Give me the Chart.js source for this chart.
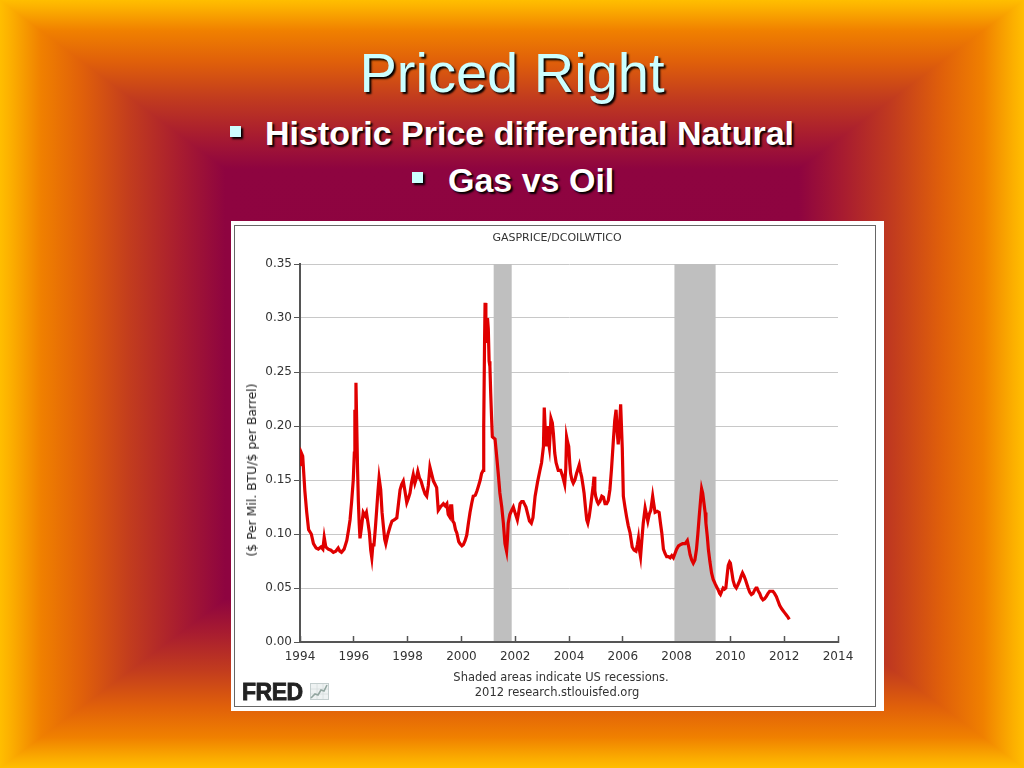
<!DOCTYPE html>
<html>
<head>
<meta charset="utf-8">
<script src="https://cdn.jsdelivr.net/npm/chart.js@4/dist/chart.umd.min.js"></script>
<style>
  html, body { margin: 0; padding: 0; }
  body { width: 1024px; height: 768px; overflow: hidden; position: relative; background: #8a0040; font-family: 'Liberation Sans', Arial, sans-serif; }
  :root { --stops: #ffbe00 0%, #fcb000 1%, #f08000 4%, #e0600a 8%, #c23c1e 12.7%, #a81c30 17.6%, #8e0440 22%, #8a0040 100%; }
  .bg { position: absolute; left: 0; top: 0; width: 1024px; height: 768px; }
  /* left/right pieces reach a little past the diagonals so no seam shows */
  .bg.left   { clip-path: polygon(0 0, 8px 0, calc(50% + 8px) 50%, 8px 100%, 0 100%); background: linear-gradient(to right, var(--stops)); }
  .bg.right  { clip-path: polygon(100% 0, calc(100% - 8px) 0, calc(50% - 8px) 50%, calc(100% - 8px) 100%, 100% 100%); background: linear-gradient(to left, var(--stops)); }
  .bg.top    { clip-path: polygon(0 0, 100% 0, 50% 50%); background: linear-gradient(to bottom, var(--stops)); }
  .bg.bottom { clip-path: polygon(0 100%, 100% 100%, 50% 50%); background: linear-gradient(to top, var(--stops)); }
  .title { position: absolute; left: 0; width: 1024px; top: 45px; text-align: center; font-size: 56px; line-height: 56px; color: #ccffff; text-shadow: 2px 2px 2px #000; }
  .bullet { position: absolute; font-size: 34px; line-height: 34px; font-weight: bold; color: #fff; text-shadow: 2px 2px 2px #000; white-space: nowrap; }
  .sq { position: absolute; width: 11px; height: 11px; background: #ccffff; box-shadow: 2px 2px 2px #000; }
  .box { position: absolute; left: 231px; top: 221px; width: 653px; height: 490px; background: #fff; }
  .frame { position: absolute; left: 234px; top: 225px; width: 640px; height: 480px; border: 1px solid #666; }
  .wrap { position: absolute; left: 231px; top: 221px; width: 653px; height: 490px; }
  .fred { position: absolute; font-family: 'DejaVu Sans', Verdana, sans-serif; color: #333; font-size: 11.5px; white-space: nowrap; transform: translate(-50%, -50%); }
  .ytitle { position: absolute; left: 252px; top: 470px; font-family: 'DejaVu Sans', Verdana, sans-serif; font-weight: normal; color: #222; font-size: 12.4px; line-height: 14px; white-space: nowrap; transform: translate(-50%, -50%) rotate(-90deg); }
  .logo { position: absolute; left: 242px; top: 681px; font-size: 23px; line-height: 23px; font-weight: bold; color: #222; letter-spacing: -0.5px; -webkit-text-stroke: 0.8px #222; }
</style>
</head>
<body>
<div class="bg left"></div>
<div class="bg right"></div>
<div class="bg top"></div>
<div class="bg bottom"></div>

<div class="title">Priced Right</div>
<div class="sq" style="left:230px; top:126px;"></div>
<div class="bullet" style="left:265px; top:116px;">Historic Price differential Natural</div>
<div class="sq" style="left:412px; top:172px;"></div>
<div class="bullet" style="left:448px; top:163px;">Gas vs Oil</div>

<div class="box"></div>
<div class="frame"></div>
<div class="wrap"><canvas id="ratioChart"></canvas></div>

<div class="fred" style="left:557px; top:237px; font-size:11px;">GASPRICE/DCOILWTICO</div>
<div class="ytitle">($ Per Mil. BTU/$ per Barrel)</div>
<div class="fred" style="left:561px; top:677px;">Shaded areas indicate US recessions.</div>
<div class="fred" style="left:557px; top:692px;">2012 research.stlouisfed.org</div>
<div class="logo">FRED</div>
<svg style="position:absolute; left:310px; top:683px;" width="19" height="17" viewBox="0 0 19 17">
  <rect x="0.5" y="0.5" width="18" height="16" fill="#eef2f2" stroke="#c4cece"/>
  <path d="M1 6H18M1 11H18M7 1V16M13 1V16" stroke="#d6dddd" stroke-width="0.8"/>
  <polyline points="1,15 5,11 8,12 11,7 14,8 17,2" fill="none" stroke="#93a6a0" stroke-width="1.6"/>
</svg>

<script>
// ratio of natural gas price to WTI crude
let years = [
  1994.00, 1994.05, 1994.10, 1994.18, 1994.25, 1994.32, 1994.42, 1994.50, 1994.60, 1994.68,
  1994.78, 1994.85, 1994.90, 1994.96, 1995.05, 1995.15, 1995.24, 1995.33, 1995.42, 1995.48,
  1995.54, 1995.64, 1995.74, 1995.80, 1995.86, 1995.92, 1995.98, 1996.02, 1996.04, 1996.06,
  1996.08, 1996.11, 1996.14, 1996.17, 1996.20, 1996.23, 1996.28, 1996.35, 1996.42, 1996.47,
  1996.53, 1996.58, 1996.63, 1996.67, 1996.71, 1996.75, 1996.80, 1996.85, 1996.90, 1996.94,
  1997.00, 1997.05, 1997.10, 1997.15, 1997.19, 1997.27, 1997.35, 1997.42, 1997.50, 1997.60,
  1997.66, 1997.72, 1997.78, 1997.84, 1997.90, 1997.97, 1998.03, 1998.09, 1998.15, 1998.21,
  1998.27, 1998.33, 1998.38, 1998.44, 1998.50, 1998.58, 1998.65, 1998.71, 1998.77, 1998.83,
  1998.90, 1998.96, 1999.02, 1999.08, 1999.14, 1999.22, 1999.33, 1999.40, 1999.46, 1999.51,
  1999.56, 1999.60, 1999.64, 1999.68, 1999.73, 1999.78, 1999.83, 1999.90, 1999.95, 2000.02,
  2000.07, 2000.14, 2000.20, 2000.26, 2000.32, 2000.38, 2000.44, 2000.52, 2000.58, 2000.63,
  2000.70, 2000.75, 2000.81, 2000.83, 2000.86, 2000.88, 2000.91, 2000.94, 2000.97, 2001.00,
  2001.03, 2001.06, 2001.09, 2001.12, 2001.15, 2001.20, 2001.25, 2001.30, 2001.37, 2001.43,
  2001.50, 2001.56, 2001.62, 2001.68, 2001.71, 2001.74, 2001.80, 2001.87, 2001.93, 2001.99,
  2002.08, 2002.13, 2002.18, 2002.24, 2002.30, 2002.36, 2002.40, 2002.47, 2002.53, 2002.60,
  2002.66, 2002.74, 2002.83, 2002.92, 2002.98, 2003.05, 2003.08, 2003.12, 2003.15, 2003.20,
  2003.24, 2003.27, 2003.33, 2003.38, 2003.42, 2003.47, 2003.52, 2003.60, 2003.69, 2003.77,
  2003.84, 2003.88, 2003.91, 2003.95, 2003.99, 2004.03, 2004.06, 2004.11, 2004.16, 2004.22,
  2004.28, 2004.33, 2004.38, 2004.42, 2004.47, 2004.52, 2004.56, 2004.61, 2004.66, 2004.70,
  2004.75, 2004.80, 2004.85, 2004.90, 2004.93, 2004.96, 2004.99, 2005.05, 2005.09, 2005.15,
  2005.22, 2005.28, 2005.34, 2005.40, 2005.46, 2005.52, 2005.58, 2005.65, 2005.70, 2005.75,
  2005.79, 2005.83, 2005.88, 2005.92, 2005.95, 2005.98, 2006.02, 2006.08, 2006.14, 2006.20,
  2006.27, 2006.35, 2006.42, 2006.49, 2006.54, 2006.58, 2006.62, 2006.66, 2006.71, 2006.76,
  2006.83, 2006.88, 2006.93, 2006.98, 2007.04, 2007.11, 2007.15, 2007.20, 2007.28, 2007.35,
  2007.40, 2007.45, 2007.51, 2007.57, 2007.63, 2007.70, 2007.76, 2007.82, 2007.88, 2007.94,
  2008.00, 2008.07, 2008.13, 2008.22, 2008.32, 2008.40, 2008.45, 2008.50, 2008.56, 2008.62,
  2008.68, 2008.74, 2008.79, 2008.84, 2008.90, 2008.93, 2008.97, 2009.02, 2009.06, 2009.09,
  2009.14, 2009.18, 2009.24, 2009.30, 2009.36, 2009.43, 2009.49, 2009.55, 2009.60, 2009.63,
  2009.68, 2009.73, 2009.78, 2009.83, 2009.88, 2009.92, 2009.97, 2010.00, 2010.05, 2010.10,
  2010.16, 2010.22, 2010.28, 2010.35, 2010.40, 2010.45, 2010.51, 2010.57, 2010.62, 2010.66,
  2010.72, 2010.78, 2010.84, 2010.90, 2010.95, 2010.99, 2011.04, 2011.09, 2011.15, 2011.21,
  2011.27, 2011.33, 2011.40, 2011.46, 2011.52, 2011.58, 2011.64, 2011.71, 2011.77, 2011.83,
  2011.90, 2011.96, 2012.02, 2012.08, 2012.14, 2012.19
]
let ratio = [
  0.163, 0.175, 0.172, 0.140, 0.120, 0.104, 0.100, 0.091, 0.087, 0.086,
  0.088, 0.086, 0.097, 0.088, 0.086, 0.085, 0.083, 0.084, 0.087, 0.084,
  0.083, 0.086, 0.094, 0.103, 0.113, 0.130, 0.150, 0.175, 0.215, 0.205,
  0.240, 0.200, 0.160, 0.130, 0.110, 0.096, 0.105, 0.120, 0.117, 0.120,
  0.110, 0.101, 0.085, 0.078, 0.090, 0.090, 0.105, 0.122, 0.140, 0.152,
  0.141, 0.120, 0.107, 0.095, 0.091, 0.100, 0.107, 0.112, 0.113, 0.115,
  0.128, 0.141, 0.146, 0.149, 0.140, 0.129, 0.133, 0.138, 0.148, 0.155,
  0.147, 0.152, 0.158, 0.152, 0.149, 0.142, 0.137, 0.135, 0.145, 0.162,
  0.155, 0.149, 0.146, 0.143, 0.122, 0.125, 0.128, 0.126, 0.128, 0.118,
  0.116, 0.126, 0.126, 0.112, 0.110, 0.104, 0.101, 0.093, 0.091, 0.089,
  0.090, 0.094, 0.099, 0.110, 0.120, 0.128, 0.135, 0.136, 0.140, 0.144,
  0.150, 0.156, 0.159, 0.200, 0.275, 0.314, 0.295, 0.277, 0.300, 0.290,
  0.260, 0.255, 0.230, 0.209, 0.190, 0.189, 0.188, 0.175, 0.156, 0.138,
  0.125, 0.110, 0.091, 0.084, 0.095, 0.110, 0.118, 0.122, 0.125, 0.120,
  0.113, 0.120, 0.128, 0.130, 0.130, 0.127, 0.125, 0.118, 0.112, 0.110,
  0.115, 0.135, 0.148, 0.159, 0.166, 0.181, 0.217, 0.195, 0.181, 0.200,
  0.185, 0.180, 0.207, 0.203, 0.193, 0.175, 0.166, 0.159, 0.159, 0.153,
  0.146, 0.160, 0.190, 0.185, 0.181, 0.165, 0.156, 0.150, 0.147, 0.150,
  0.156, 0.160, 0.164, 0.158, 0.153, 0.145, 0.138, 0.125, 0.113, 0.110,
  0.116, 0.125, 0.135, 0.145, 0.153, 0.140, 0.135, 0.130, 0.128, 0.130,
  0.135, 0.134, 0.128, 0.128, 0.131, 0.141, 0.160, 0.187, 0.205, 0.215,
  0.195, 0.183, 0.200, 0.220, 0.200, 0.180, 0.135, 0.125, 0.116, 0.108,
  0.101, 0.088, 0.085, 0.084, 0.090, 0.096, 0.085, 0.079, 0.095, 0.110,
  0.124, 0.118, 0.112, 0.118, 0.122, 0.135, 0.128, 0.120, 0.121, 0.120,
  0.110, 0.101, 0.086, 0.082, 0.079, 0.079, 0.078, 0.080, 0.078, 0.082,
  0.086, 0.089, 0.090, 0.091, 0.091, 0.094, 0.088, 0.081, 0.076, 0.073,
  0.076, 0.086, 0.100, 0.116, 0.134, 0.142, 0.138, 0.128, 0.120, 0.110,
  0.098, 0.086, 0.074, 0.064, 0.058, 0.054, 0.051, 0.048, 0.045, 0.044,
  0.047, 0.050, 0.049, 0.050, 0.062, 0.071, 0.074, 0.073, 0.065, 0.057,
  0.052, 0.050, 0.053, 0.057, 0.061, 0.064, 0.061, 0.057, 0.053, 0.050,
  0.046, 0.044, 0.045, 0.048, 0.050, 0.050, 0.047, 0.045, 0.041, 0.039,
  0.040, 0.042, 0.045, 0.047, 0.047, 0.047, 0.045, 0.042, 0.038, 0.034,
  0.031, 0.029, 0.027, 0.025, 0.023, 0.021
]

// US recessions (shaded)
let recStart = [2001.2, 2007.92]
let recEnd = [2001.87, 2009.45]

const fredFont = { family: "'DejaVu Sans', Verdana, sans-serif", size: 12 }

const recessionBands = {
  id: 'recessionBands',
  beforeDatasetsDraw(chart) {
    const { ctx, chartArea, scales: { x } } = chart
    ctx.save()
    ctx.fillStyle = '#bfbfbf'
    recStart.forEach((s, i) => {
      const x0 = x.getPixelForValue(s)
      const x1 = x.getPixelForValue(recEnd[i])
      ctx.fillRect(x0, chartArea.top, x1 - x0, chartArea.bottom - chartArea.top - 1)
    })
    ctx.restore()
  }
}

let ratioChart = new Chart(document.querySelector('#ratioChart'), {
  type: 'line',
  plugins: [recessionBands],
  data: {
    datasets: [{
      label: 'GASPRICE/DCOILWTICO',
      data: years.map((yr, i) => ({ x: yr, y: ratio[i] })),
      borderColor: '#e00000',
      borderWidth: 3.2,
      pointRadius: 0,
      tension: 0
    }]
  },
  options: {
    animation: false,
    responsive: true,
    maintainAspectRatio: false,
    layout: {
      padding: { left: 10, top: 43, right: 46, bottom: 0 }
    },
    plugins: {
      legend: { display: false },
      tooltip: { enabled: false }
    },
    scales: {
      x: {
        type: 'linear',
        min: 1994,
        max: 2014,
        afterFit: (s) => { s.height = 69 },
        border: { color: '#555', width: 2 },
        grid: {
          drawOnChartArea: false,
          tickLength: -6,
          tickColor: '#555',
          tickWidth: 1.5
        },
        ticks: {
          stepSize: 2,
          padding: 14,
          maxRotation: 0,
          color: '#333',
          font: fredFont,
          callback: (v) => String(v)
        }
      },
      y: {
        min: 0,
        max: 0.35,
        afterFit: (s) => { s.width = 59 },
        border: { color: '#555', width: 2 },
        grid: {
          color: '#c8c8c8',
          tickLength: 6,
          tickColor: '#555'
        },
        ticks: {
          stepSize: 0.05,
          padding: 2,
          color: '#333',
          font: fredFont,
          callback: (v) => v.toFixed(2)
        }
      }
    }
  }
})
</script>
</body>
</html>
